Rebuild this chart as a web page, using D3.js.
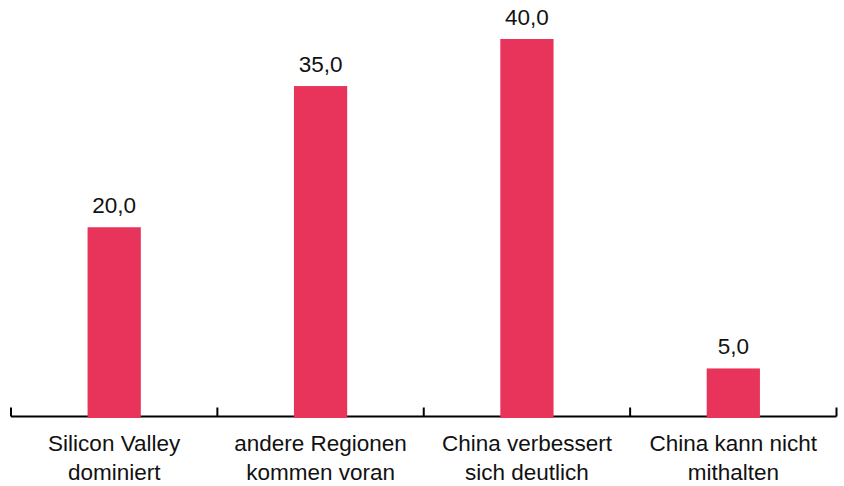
<!DOCTYPE html>
<html>
<head>
<meta charset="utf-8">
<script src="https://cdn.jsdelivr.net/npm/d3@7"></script>
<style>
  body { margin: 0; background: #fff; }
  svg text { font-family: "Liberation Sans", Arial, Helvetica, sans-serif; fill: #111; }
</style>
</head>
<body>
<div id="chart"></div>
<script>
var categories = [["Silicon Valley", "dominiert"], ["andere Regionen", "kommen voran"], ["China verbessert", "sich deutlich"], ["China kann nicht", "mithalten"]]
var values = [20, 35, 40, 5]
var barColor = "#e8345b"

var width = 844, height = 486
var margin = {top: 39, right: 7.5, bottom: 70.5, left: 11}

var svg = d3.select("#chart").append("svg")
    .attr("width", width)
    .attr("height", height)

var keys = categories.map(c => c.join(" "))

var xScale = d3.scaleBand()
    .domain(keys)
    .range([margin.left, width - margin.right])
    .paddingInner(0)
    .paddingOuter(0)

var yScale = d3.scaleLinear()
    .domain([0, d3.max(values)])
    .range([height - margin.bottom, margin.top])

var base = yScale(0)
var barW = xScale.bandwidth() * 0.258

// axis line with upward ticks at band boundaries
var axis = svg.append("g")
axis.append("line")
    .attr("x1", xScale.range()[0]).attr("x2", xScale.range()[1])
    .attr("y1", base + 1).attr("y2", base + 1)
    .attr("stroke", "#000").attr("stroke-width", 2)

var edges = keys.map(k => xScale(k)).concat([xScale.range()[1]])
axis.selectAll(".tick")
    .data(edges)
    .enter().append("line")
    .attr("x1", d => d).attr("x2", d => d)
    .attr("y1", base + 1).attr("y2", base - 8)
    .attr("stroke", "#000").attr("stroke-width", 2)

// bars
svg.selectAll("rect.bar")
    .data(values)
    .enter().append("rect")
    .attr("class", "bar")
    .attr("x", (d, i) => xScale(keys[i]) + xScale.bandwidth() / 2 - barW / 2)
    .attr("y", d => yScale(d))
    .attr("width", barW)
    .attr("height", d => base - yScale(d) + 2.5)
    .attr("fill", barColor)

// value labels
svg.selectAll("text.value")
    .data(values)
    .enter().append("text")
    .attr("class", "value")
    .attr("x", (d, i) => xScale(keys[i]) + xScale.bandwidth() / 2)
    .attr("y", d => yScale(d) - 14)
    .attr("text-anchor", "middle")
    .attr("font-size", "22.5px")
    .text(d => d3.format(".1f")(d).replace(".", ","))

// category labels
var lab = svg.selectAll("text.cat")
    .data(categories)
    .enter().append("text")
    .attr("class", "cat")
    .attr("text-anchor", "middle")
    .attr("font-size", "22.5px")
lab.selectAll("tspan")
    .data((d, i) => d.map(t => ({t: t, i: i})))
    .enter().append("tspan")
    .attr("x", d => xScale(keys[d.i]) + xScale.bandwidth() / 2)
    .attr("y", (d, j) => base + 35.5 + j * 29)
    .text(d => d.t)
</script>
</body>
</html>
